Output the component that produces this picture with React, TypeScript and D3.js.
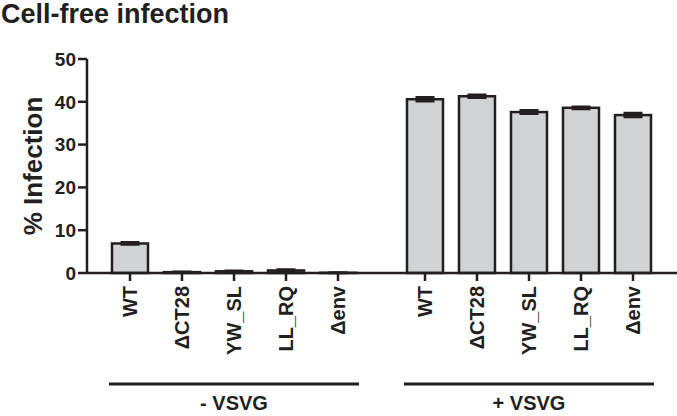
import * as d3 from 'd3'

const title = 'Cell-free infection'
const yLabel = '% Infection'
const groups = ['- VSVG', '+ VSVG']
const categories = ['WT', 'ΔCT28', 'YW_SL', 'LL_RQ', 'Δenv']
const minusValues = [6.9, 0.2, 0.4, 0.6, 0.05]
const minusErrors = [0.2, 0.05, 0.08, 0.15, 0.02]
const plusValues = [40.6, 41.3, 37.6, 38.6, 36.9]
const plusErrors = [0.4, 0.3, 0.35, 0.2, 0.4]
const yTicks = [0, 10, 20, 30, 40, 50]

const INK = '#231f20'
const FILL = '#d1d2d4'
const FONT = 'Liberation Sans, Arial, sans-serif'

export default function App() {
  const width = 677
  const height = 416
  const axisX = 87
  const top = 59
  const bottom = 273

  const y = d3.scaleLinear().domain([0, 50]).range([bottom, top])

  const xGroup = d3.scaleBand().domain(groups).range([104, 659]).paddingInner(0.1186)
  const xCat = d3
    .scaleBand()
    .domain(categories)
    .range([0, xGroup.bandwidth()])
    .paddingInner(0.3077)
    .paddingOuter(0.1538)

  const series = [
    {group: groups[0], values: minusValues, errors: minusErrors},
    {group: groups[1], values: plusValues, errors: plusErrors},
  ]

  const bw = xCat.bandwidth()
  const capW = 19

  return (
    <svg
      width={width}
      height={height}
      style={{position: 'absolute', left: 0, top: 0}}
      fontFamily={FONT}
      fontWeight={700}
    >
      <rect width={width} height={height} fill="#fff" />
      <text x={1} y={23} fontSize={27} fill={INK}>
        {title}
      </text>
      <text
        transform={`translate(42, ${(top + bottom) / 2}) rotate(-90)`}
        textAnchor="middle"
        fontSize={26}
        fill={INK}
      >
        {yLabel}
      </text>

      {/* y axis */}
      <path d={`M${axisX},${top}V${bottom}`} stroke={INK} strokeWidth={2.5} />
      {yTicks.map(t => (
        <g key={t} transform={`translate(0, ${y(t)})`}>
          <path d={`M${axisX - 9},0H${axisX}`} stroke={INK} strokeWidth={2.5} />
          <text x={axisX - 11} dy="0.36em" textAnchor="end" fontSize={19} fill={INK}>
            {t}
          </text>
        </g>
      ))}

      {/* bars */}
      {series.map(s => {
        const gx = xGroup(s.group) ?? 0
        return (
          <g key={s.group}>
            {categories.map((c, i) => {
              const x0 = gx + (xCat(c) ?? 0)
              const cx = x0 + bw / 2
              const v = s.values[i]
              const e = s.errors[i]
              return (
                <g key={c}>
                  <rect
                    x={x0}
                    y={y(v)}
                    width={bw}
                    height={bottom - y(v)}
                    fill={FILL}
                    stroke={INK}
                    strokeWidth={2.5}
                  />
                  <path
                    d={`M${cx},${y(v - e)}V${y(v + e)}`}
                    stroke={INK}
                    strokeWidth={2.5}
                  />
                  <path
                    d={`M${cx - capW / 2},${y(v + e)}H${cx + capW / 2}M${cx - capW / 2},${y(v - e)}H${cx + capW / 2}`}
                    stroke={INK}
                    strokeWidth={3}
                  />
                </g>
              )
            })}
          </g>
        )
      })}

      {/* x axis */}
      <path d={`M${axisX},${bottom}H${width}`} stroke={INK} strokeWidth={2.5} />
      {series.map(s => {
        const gx = xGroup(s.group) ?? 0
        return categories.map(c => {
          const cx = gx + (xCat(c) ?? 0) + bw / 2
          return (
            <g key={s.group + c} transform={`translate(${cx}, ${bottom})`}>
              <path d="M0,0V8" stroke={INK} strokeWidth={2.5} />
              <text
                transform="translate(0, 13) rotate(-90)"
                dy="0.36em"
                textAnchor="end"
                fontSize={20}
                fill={INK}
              >
                {c}
              </text>
            </g>
          )
        })
      })}

      {/* group brackets */}
      {groups.map(g => {
        const gx = xGroup(g) ?? 0
        const w = xGroup.bandwidth()
        return (
          <g key={g}>
            <path d={`M${gx + 5},384H${gx + w - 5}`} stroke={INK} strokeWidth={3} />
            <text x={gx + w / 2} y={410} textAnchor="middle" fontSize={20} fill={INK}>
              {g}
            </text>
          </g>
        )
      })}
    </svg>
  )
}
